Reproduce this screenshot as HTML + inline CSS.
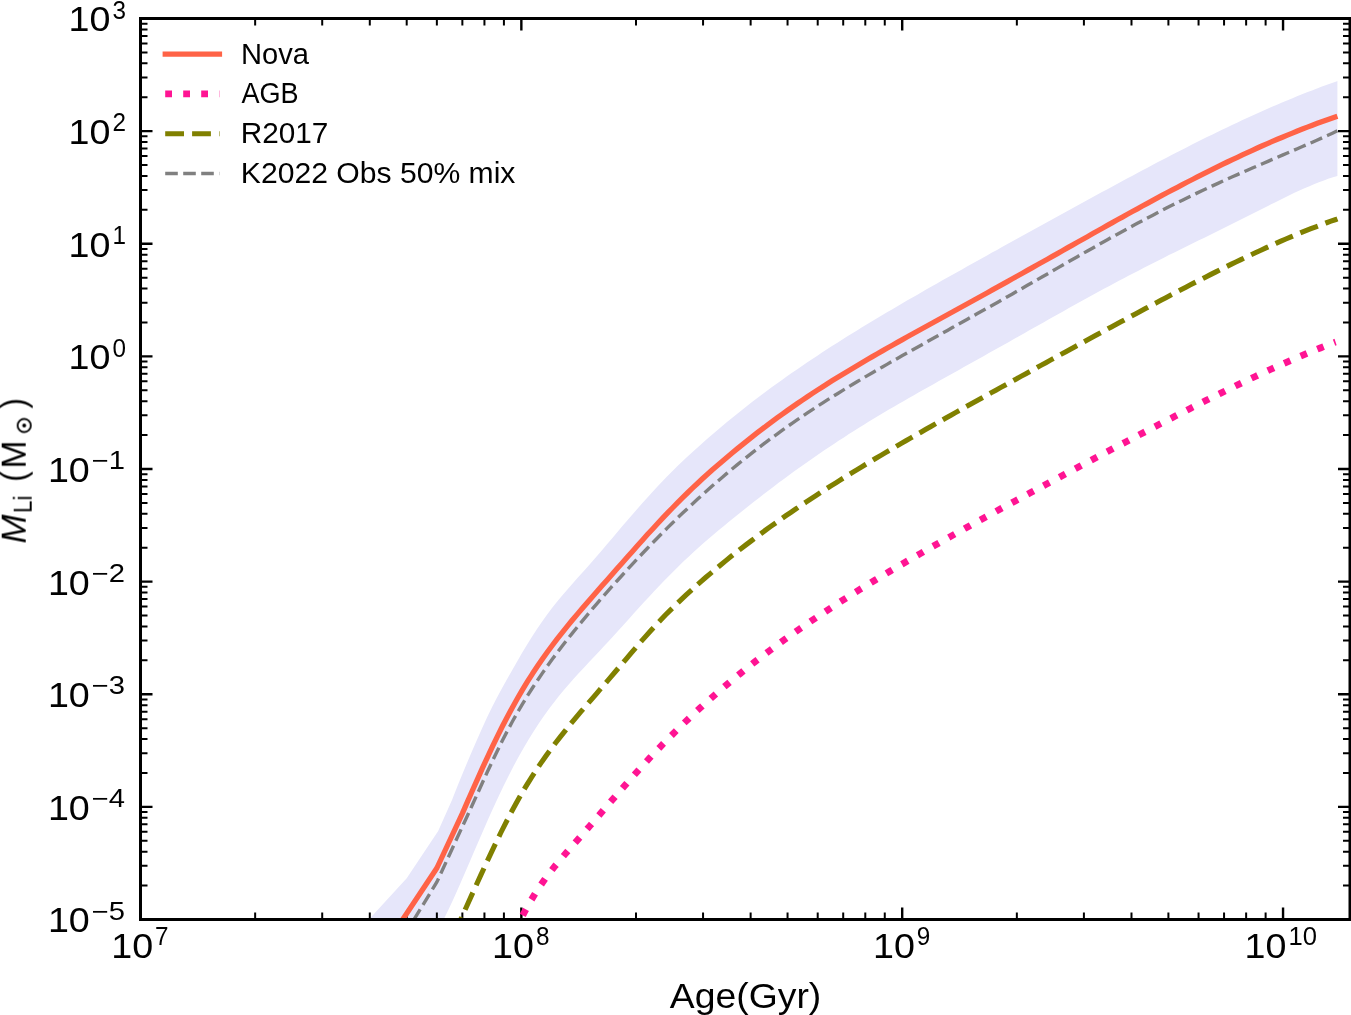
<!DOCTYPE html>
<html lang="en">
<head>
<meta charset="utf-8">
<title>Li mass vs age</title>
<style>
html,body{margin:0;padding:0;background:#fff;}
body{width:1351px;height:1015px;overflow:hidden;font-family:"Liberation Sans",sans-serif;}
svg{display:block;}
</style>
</head>
<body>
<svg width="1351" height="1015" viewBox="0 0 1351 1015" role="img" aria-label="Lithium mass versus age for Nova, AGB, R2017 and K2022 models">
<rect width="1351" height="1015" fill="#fff"/>
<defs><clipPath id="ax"><rect x="140.5" y="18.5" width="1209.5" height="901.0"/></clipPath></defs>
<path d="M369.8 918.5L406.7 878.2L438.2 831.0L452.0 799.9L457.0 787.2L462.0 775.0L467.0 763.1L472.0 751.3L477.0 739.8L482.0 728.4L487.0 717.5L492.0 707.2L497.0 697.5L502.0 688.3L507.0 679.3L512.0 670.4L517.0 661.7L522.0 653.1L527.0 644.7L532.0 636.7L537.0 629.0L542.0 621.7L547.0 614.8L552.0 608.1L557.0 601.8L562.0 595.8L567.0 590.0L572.0 584.3L577.0 578.6L582.0 573.0L587.0 567.4L592.0 561.7L597.0 556.0L602.0 550.2L607.0 544.3L612.0 538.5L617.0 532.5L622.0 526.6L627.0 520.8L632.0 514.9L637.0 509.2L642.0 503.5L647.0 497.9L652.0 492.4L657.0 487.0L662.0 481.8L667.0 476.6L672.0 471.6L677.0 466.6L682.0 461.8L687.0 457.1L692.0 452.4L697.0 447.9L702.0 443.4L707.0 439.0L712.0 434.7L717.0 430.4L722.0 426.2L727.0 422.1L732.0 418.0L737.0 413.9L742.0 409.9L747.0 406.0L752.0 402.1L757.0 398.3L762.0 394.5L767.0 390.8L772.0 387.1L777.0 383.5L782.0 379.9L787.0 376.3L792.0 372.8L797.0 369.4L802.0 365.9L807.0 362.5L812.0 359.2L817.0 355.9L822.0 352.6L827.0 349.3L832.0 346.1L837.0 342.9L842.0 339.7L847.0 336.6L852.0 333.5L857.0 330.4L862.0 327.3L867.0 324.3L872.0 321.3L877.0 318.3L882.0 315.3L887.0 312.3L892.0 309.4L897.0 306.4L902.0 303.5L907.0 300.6L912.0 297.7L917.0 294.9L922.0 292.0L927.0 289.1L932.0 286.3L937.0 283.4L942.0 280.6L947.0 277.8L952.0 275.0L957.0 272.2L962.0 269.4L967.0 266.6L972.0 263.8L977.0 261.0L982.0 258.2L987.0 255.4L992.0 252.6L997.0 249.9L1002.0 247.1L1007.0 244.3L1012.0 241.5L1017.0 238.8L1022.0 236.0L1027.0 233.2L1032.0 230.5L1037.0 227.7L1042.0 225.0L1047.0 222.2L1052.0 219.5L1057.0 216.7L1062.0 214.0L1067.0 211.2L1072.0 208.5L1077.0 205.7L1082.0 203.0L1087.0 200.3L1092.0 197.5L1097.0 194.8L1102.0 192.1L1107.0 189.4L1112.0 186.7L1117.0 184.0L1122.0 181.3L1127.0 178.6L1132.0 175.9L1137.0 173.2L1142.0 170.6L1147.0 167.9L1152.0 165.3L1157.0 162.6L1162.0 160.0L1167.0 157.4L1172.0 154.8L1177.0 152.3L1182.0 149.7L1187.0 147.2L1192.0 144.6L1197.0 142.1L1202.0 139.6L1207.0 137.1L1212.0 134.7L1217.0 132.2L1222.0 129.8L1227.0 127.4L1232.0 125.0L1237.0 122.7L1242.0 120.3L1247.0 118.0L1252.0 115.7L1257.0 113.5L1262.0 111.2L1267.0 109.0L1272.0 106.8L1277.0 104.7L1282.0 102.6L1287.0 100.5L1292.0 98.4L1297.0 96.3L1302.0 94.3L1307.0 92.3L1312.0 90.4L1317.0 88.5L1322.0 86.6L1327.0 84.8L1332.0 82.9L1337.0 81.2L1337.4 81.0L1337.4 176.0L1333.9 177.0L1328.9 178.6L1323.9 180.4L1318.9 182.3L1313.9 184.3L1308.9 186.4L1303.9 188.5L1298.9 190.8L1293.9 193.1L1288.9 195.5L1283.9 197.9L1278.9 200.4L1273.9 202.9L1268.9 205.4L1263.9 207.9L1258.9 210.4L1253.9 213.0L1248.9 215.5L1243.9 218.0L1238.9 220.5L1233.9 223.0L1228.9 225.5L1223.9 228.0L1218.9 230.5L1213.9 232.9L1208.9 235.4L1203.9 237.9L1198.9 240.3L1193.9 242.8L1188.9 245.2L1183.9 247.7L1178.9 250.2L1173.9 252.7L1168.9 255.1L1163.9 257.7L1158.9 260.2L1153.9 262.7L1148.9 265.2L1143.9 267.8L1138.9 270.4L1133.9 273.0L1128.9 275.6L1123.9 278.2L1118.9 280.8L1113.9 283.5L1108.9 286.2L1103.9 288.8L1098.9 291.6L1093.9 294.3L1088.9 297.0L1083.9 299.8L1078.9 302.5L1073.9 305.3L1068.9 308.1L1063.9 310.9L1058.9 313.7L1053.9 316.5L1048.9 319.3L1043.9 322.2L1038.9 325.0L1033.9 327.8L1028.9 330.6L1023.9 333.5L1018.9 336.3L1013.9 339.1L1008.9 341.9L1003.9 344.7L998.9 347.5L993.9 350.3L988.9 353.1L983.9 355.9L978.9 358.7L973.9 361.5L968.9 364.3L963.9 367.1L958.9 369.9L953.9 372.7L948.9 375.5L943.9 378.3L938.9 381.1L933.9 383.9L928.9 386.7L923.9 389.5L918.9 392.3L913.9 395.2L908.9 398.0L903.9 400.9L898.9 403.8L893.9 406.7L888.9 409.6L883.9 412.6L878.9 415.6L873.9 418.6L868.9 421.6L863.9 424.7L858.9 427.8L853.9 431.0L848.9 434.1L843.9 437.4L838.9 440.6L833.9 443.9L828.9 447.2L823.9 450.6L818.9 454.0L813.9 457.4L808.9 460.9L803.9 464.4L798.9 468.0L793.9 471.6L788.9 475.2L783.9 478.9L778.9 482.6L773.9 486.4L768.9 490.2L763.9 494.1L758.9 497.9L753.9 501.8L748.9 505.8L743.9 509.7L738.9 513.7L733.9 517.7L728.9 521.8L723.9 525.9L718.9 530.0L713.9 534.2L708.9 538.5L703.9 542.8L698.9 547.3L693.9 551.8L688.9 556.4L683.9 561.1L678.9 565.9L673.9 570.9L668.9 575.9L663.9 581.0L658.9 586.2L653.9 591.5L648.9 596.9L643.9 602.3L638.9 607.8L633.9 613.3L628.9 618.9L623.9 624.4L618.9 630.0L613.9 635.5L608.9 640.9L603.9 646.3L598.9 651.7L593.9 657.0L588.9 662.3L583.9 667.7L578.9 673.1L573.9 678.5L568.9 684.2L563.9 690.0L558.9 696.1L553.9 702.4L548.9 709.0L543.9 715.9L538.9 723.2L533.9 730.9L528.9 738.9L523.9 747.4L518.9 756.2L513.9 765.5L508.9 775.2L503.9 785.2L498.9 795.7L493.9 806.5L488.9 817.6L483.9 828.9L478.9 840.4L473.9 852.0L468.9 863.7L463.9 875.3L458.9 886.8L453.9 897.9L448.9 908.7L443.9 919.0L430.0 950.0L369.8 1060.0Z" fill="#e6e6fa" stroke="none" clip-path="url(#ax)"/>
<path d="M521.35 919.5v-12M521.35 18.5v12M902.20 919.5v-12M902.20 18.5v12M1283.05 919.5v-12M1283.05 18.5v12M140.5 806.88h12M1350.0 806.88h-12M140.5 694.25h12M1350.0 694.25h-12M140.5 581.62h12M1350.0 581.62h-12M140.5 469.00h12M1350.0 469.00h-12M140.5 356.38h12M1350.0 356.38h-12M140.5 243.75h12M1350.0 243.75h-12M140.5 131.12h12M1350.0 131.12h-12" stroke="#000" stroke-width="2.4" fill="none"/>
<path d="M255.15 919.5v-7M255.15 18.5v7M322.21 919.5v-7M322.21 18.5v7M369.79 919.5v-7M369.79 18.5v7M406.70 919.5v-7M406.70 18.5v7M436.86 919.5v-7M436.86 18.5v7M462.36 919.5v-7M462.36 18.5v7M484.44 919.5v-7M484.44 18.5v7M503.92 919.5v-7M503.92 18.5v7M636.00 919.5v-7M636.00 18.5v7M703.06 919.5v-7M703.06 18.5v7M750.64 919.5v-7M750.64 18.5v7M787.55 919.5v-7M787.55 18.5v7M817.71 919.5v-7M817.71 18.5v7M843.21 919.5v-7M843.21 18.5v7M865.29 919.5v-7M865.29 18.5v7M884.77 919.5v-7M884.77 18.5v7M1016.85 919.5v-7M1016.85 18.5v7M1083.91 919.5v-7M1083.91 18.5v7M1131.49 919.5v-7M1131.49 18.5v7M1168.40 919.5v-7M1168.40 18.5v7M1198.56 919.5v-7M1198.56 18.5v7M1224.06 919.5v-7M1224.06 18.5v7M1246.14 919.5v-7M1246.14 18.5v7M1265.62 919.5v-7M1265.62 18.5v7M140.5 885.60h7M1350.0 885.60h-7M140.5 865.76h7M1350.0 865.76h-7M140.5 851.69h7M1350.0 851.69h-7M140.5 840.78h7M1350.0 840.78h-7M140.5 831.86h7M1350.0 831.86h-7M140.5 824.32h7M1350.0 824.32h-7M140.5 817.79h7M1350.0 817.79h-7M140.5 812.03h7M1350.0 812.03h-7M140.5 772.97h7M1350.0 772.97h-7M140.5 753.14h7M1350.0 753.14h-7M140.5 739.07h7M1350.0 739.07h-7M140.5 728.15h7M1350.0 728.15h-7M140.5 719.24h7M1350.0 719.24h-7M140.5 711.70h7M1350.0 711.70h-7M140.5 705.16h7M1350.0 705.16h-7M140.5 699.40h7M1350.0 699.40h-7M140.5 660.35h7M1350.0 660.35h-7M140.5 640.51h7M1350.0 640.51h-7M140.5 626.44h7M1350.0 626.44h-7M140.5 615.53h7M1350.0 615.53h-7M140.5 606.61h7M1350.0 606.61h-7M140.5 599.07h7M1350.0 599.07h-7M140.5 592.54h7M1350.0 592.54h-7M140.5 586.78h7M1350.0 586.78h-7M140.5 547.72h7M1350.0 547.72h-7M140.5 527.89h7M1350.0 527.89h-7M140.5 513.82h7M1350.0 513.82h-7M140.5 502.90h7M1350.0 502.90h-7M140.5 493.99h7M1350.0 493.99h-7M140.5 486.45h7M1350.0 486.45h-7M140.5 479.91h7M1350.0 479.91h-7M140.5 474.15h7M1350.0 474.15h-7M140.5 435.10h7M1350.0 435.10h-7M140.5 415.26h7M1350.0 415.26h-7M140.5 401.19h7M1350.0 401.19h-7M140.5 390.28h7M1350.0 390.28h-7M140.5 381.36h7M1350.0 381.36h-7M140.5 373.82h7M1350.0 373.82h-7M140.5 367.29h7M1350.0 367.29h-7M140.5 361.53h7M1350.0 361.53h-7M140.5 322.47h7M1350.0 322.47h-7M140.5 302.64h7M1350.0 302.64h-7M140.5 288.57h7M1350.0 288.57h-7M140.5 277.65h7M1350.0 277.65h-7M140.5 268.74h7M1350.0 268.74h-7M140.5 261.20h7M1350.0 261.20h-7M140.5 254.66h7M1350.0 254.66h-7M140.5 248.90h7M1350.0 248.90h-7M140.5 209.85h7M1350.0 209.85h-7M140.5 190.01h7M1350.0 190.01h-7M140.5 175.94h7M1350.0 175.94h-7M140.5 165.03h7M1350.0 165.03h-7M140.5 156.11h7M1350.0 156.11h-7M140.5 148.57h7M1350.0 148.57h-7M140.5 142.04h7M1350.0 142.04h-7M140.5 136.28h7M1350.0 136.28h-7M140.5 97.22h7M1350.0 97.22h-7M140.5 77.39h7M1350.0 77.39h-7M140.5 63.32h7M1350.0 63.32h-7M140.5 52.40h7M1350.0 52.40h-7M140.5 43.49h7M1350.0 43.49h-7M140.5 35.95h7M1350.0 35.95h-7M140.5 29.41h7M1350.0 29.41h-7M140.5 23.65h7M1350.0 23.65h-7" stroke="#000" stroke-width="2" fill="none"/>
<g clip-path="url(#ax)" fill="none">
<path d="M369.8 967.8L406.7 913.6L436.9 868.0L462.4 813.4L467.4 801.9L472.4 790.5L477.4 779.3L482.4 768.1L487.4 757.3L492.4 746.6L497.4 736.3L502.4 726.3L507.4 716.7L512.4 707.4L517.4 698.5L522.4 689.9L527.4 681.7L532.4 673.8L537.4 666.3L542.4 659.0L547.4 652.0L552.4 645.2L557.4 638.6L562.4 632.3L567.4 626.1L572.4 620.0L577.4 614.1L582.4 608.2L587.4 602.4L592.4 596.7L597.4 591.0L602.4 585.3L607.4 579.7L612.4 574.0L617.4 568.3L622.4 562.7L627.4 557.0L632.4 551.4L637.4 545.8L642.4 540.2L647.4 534.6L652.4 529.2L657.4 523.7L662.4 518.4L667.4 513.1L672.4 508.0L677.4 502.9L682.4 497.9L687.4 493.0L692.4 488.2L697.4 483.5L702.4 478.8L707.4 474.3L712.4 469.8L717.4 465.5L722.4 461.2L727.4 456.9L732.4 452.7L737.4 448.6L742.4 444.6L747.4 440.6L752.4 436.6L757.4 432.7L762.4 428.9L767.4 425.1L772.4 421.4L777.4 417.7L782.4 414.1L787.4 410.5L792.4 407.0L797.4 403.5L802.4 400.1L807.4 396.7L812.4 393.4L817.4 390.1L822.4 386.9L827.4 383.7L832.4 380.6L837.4 377.5L842.4 374.4L847.4 371.4L852.4 368.4L857.4 365.4L862.4 362.4L867.4 359.5L872.4 356.6L877.4 353.7L882.4 350.9L887.4 348.0L892.4 345.2L897.4 342.4L902.4 339.6L907.4 336.8L912.4 334.0L917.4 331.2L922.4 328.5L927.4 325.7L932.4 323.0L937.4 320.2L942.4 317.5L947.4 314.7L952.4 312.0L957.4 309.2L962.4 306.5L967.4 303.7L972.4 301.0L977.4 298.2L982.4 295.5L987.4 292.7L992.4 289.9L997.4 287.2L1002.4 284.4L1007.4 281.6L1012.4 278.8L1017.4 276.0L1022.4 273.2L1027.4 270.4L1032.4 267.6L1037.4 264.8L1042.4 262.0L1047.4 259.2L1052.4 256.4L1057.4 253.6L1062.4 250.8L1067.4 247.9L1072.4 245.1L1077.4 242.3L1082.4 239.5L1087.4 236.7L1092.4 233.8L1097.4 231.0L1102.4 228.2L1107.4 225.4L1112.4 222.6L1117.4 219.8L1122.4 217.1L1127.4 214.3L1132.4 211.5L1137.4 208.8L1142.4 206.0L1147.4 203.3L1152.4 200.6L1157.4 197.9L1162.4 195.2L1167.4 192.5L1172.4 189.9L1177.4 187.3L1182.4 184.6L1187.4 182.0L1192.4 179.5L1197.4 176.9L1202.4 174.4L1207.4 171.9L1212.4 169.4L1217.4 166.9L1222.4 164.4L1227.4 162.0L1232.4 159.6L1237.4 157.3L1242.4 154.9L1247.4 152.6L1252.4 150.3L1257.4 148.0L1262.4 145.8L1267.4 143.6L1272.4 141.4L1277.4 139.3L1282.4 137.2L1287.4 135.1L1292.4 133.1L1297.4 131.0L1302.4 129.1L1307.4 127.1L1312.4 125.2L1317.4 123.3L1322.4 121.5L1327.4 119.7L1332.4 117.9L1337.4 116.2L1337.4 116.2" stroke="#ff6347" stroke-width="5.3" stroke-linejoin="round"/>
<path d="M514.3 930.0L520.3 920.0L525.3 910.5L530.3 901.6L535.3 893.4L540.3 885.7L545.3 878.6L550.3 872.0L555.3 865.7L560.3 859.8L565.3 853.9L570.3 848.2L575.3 842.6L580.3 836.9L585.3 831.2L590.3 825.4L595.3 819.6L600.3 813.8L605.3 808.0L610.3 802.2L615.3 796.4L620.3 790.7L625.3 785.0L630.3 779.3L635.3 773.7L640.3 768.2L645.3 762.7L650.3 757.3L655.3 752.0L660.3 746.8L665.3 741.6L670.3 736.6L675.3 731.6L680.3 726.7L685.3 721.9L690.3 717.1L695.3 712.4L700.3 707.8L705.3 703.3L710.3 698.9L715.3 694.5L720.3 690.1L725.3 685.9L730.3 681.7L735.3 677.5L740.3 673.5L745.3 669.4L750.3 665.5L755.3 661.5L760.3 657.7L765.3 653.9L770.3 650.1L775.3 646.4L780.3 642.7L785.3 639.1L790.3 635.5L795.3 632.0L800.3 628.5L805.3 625.0L810.3 621.6L815.3 618.2L820.3 614.9L825.3 611.6L830.3 608.3L835.3 605.0L840.3 601.8L845.3 598.6L850.3 595.5L855.3 592.3L860.3 589.2L865.3 586.1L870.3 583.1L875.3 580.0L880.3 577.0L885.3 574.0L890.3 571.0L895.3 568.1L900.3 565.1L905.3 562.2L910.3 559.3L915.3 556.4L920.3 553.6L925.3 550.7L930.3 547.8L935.3 545.0L940.3 542.2L945.3 539.4L950.3 536.6L955.3 533.8L960.3 531.0L965.3 528.2L970.3 525.5L975.3 522.7L980.3 520.0L985.3 517.2L990.3 514.5L995.3 511.8L1000.3 509.0L1005.3 506.3L1010.3 503.6L1015.3 500.9L1020.3 498.2L1025.3 495.5L1030.3 492.8L1035.3 490.1L1040.3 487.4L1045.3 484.7L1050.3 482.0L1055.3 479.4L1060.3 476.7L1065.3 474.0L1070.3 471.3L1075.3 468.7L1080.3 466.0L1085.3 463.3L1090.3 460.7L1095.3 458.0L1100.3 455.4L1105.3 452.7L1110.3 450.1L1115.3 447.4L1120.3 444.8L1125.3 442.2L1130.3 439.5L1135.3 436.9L1140.3 434.3L1145.3 431.7L1150.3 429.0L1155.3 426.4L1160.3 423.8L1165.3 421.3L1170.3 418.7L1175.3 416.1L1180.3 413.5L1185.3 411.0L1190.3 408.4L1195.3 405.9L1200.3 403.4L1205.3 400.8L1210.3 398.3L1215.3 395.8L1220.3 393.4L1225.3 390.9L1230.3 388.5L1235.3 386.0L1240.3 383.6L1245.3 381.2L1250.3 378.8L1255.3 376.5L1260.3 374.1L1265.3 371.8L1270.3 369.5L1275.3 367.2L1280.3 365.0L1285.3 362.8L1290.3 360.6L1295.3 358.4L1300.3 356.2L1305.3 354.1L1310.3 352.0L1315.3 350.0L1320.3 348.0L1325.3 346.0L1330.3 344.0L1335.3 342.1L1335.6 342.0" stroke="#ff1493" stroke-width="6.8" stroke-dasharray="6.8 11.2" stroke-dashoffset="1.1"/>
<path d="M456.1 930.0L460.9 919.1L465.9 908.0L470.9 896.9L475.9 885.9L480.9 874.9L485.9 864.0L490.9 853.3L495.9 842.8L500.9 832.5L505.9 822.6L510.9 813.0L515.9 803.8L520.9 794.9L525.9 786.4L530.9 778.3L535.9 770.6L540.9 763.1L545.9 756.0L550.9 749.1L555.9 742.5L560.9 736.1L565.9 729.8L570.9 723.7L575.9 717.7L580.9 711.7L585.9 705.9L590.9 700.1L595.9 694.3L600.9 688.5L605.9 682.7L610.9 676.9L615.9 671.0L620.9 665.2L625.9 659.3L630.9 653.4L635.9 647.5L640.9 641.7L645.9 636.1L650.9 630.5L655.9 625.1L660.9 619.8L665.9 614.6L670.9 609.6L675.9 604.7L680.9 599.9L685.9 595.2L690.9 590.6L695.9 586.1L700.9 581.7L705.9 577.3L710.9 573.1L715.9 568.8L720.9 564.7L725.9 560.6L730.9 556.6L735.9 552.6L740.9 548.7L745.9 544.9L750.9 541.1L755.9 537.3L760.9 533.6L765.9 529.9L770.9 526.3L775.9 522.8L780.9 519.2L785.9 515.7L790.9 512.3L795.9 508.9L800.9 505.5L805.9 502.2L810.9 498.8L815.9 495.6L820.9 492.3L825.9 489.1L830.9 485.9L835.9 482.8L840.9 479.6L845.9 476.5L850.9 473.4L855.9 470.4L860.9 467.3L865.9 464.3L870.9 461.3L875.9 458.3L880.9 455.4L885.9 452.4L890.9 449.5L895.9 446.6L900.9 443.6L905.9 440.8L910.9 437.9L915.9 435.0L920.9 432.2L925.9 429.3L930.9 426.5L935.9 423.6L940.9 420.8L945.9 418.0L950.9 415.2L955.9 412.4L960.9 409.6L965.9 406.8L970.9 404.0L975.9 401.3L980.9 398.5L985.9 395.7L990.9 392.9L995.9 390.2L1000.9 387.4L1005.9 384.7L1010.9 381.9L1015.9 379.2L1020.9 376.4L1025.9 373.7L1030.9 370.9L1035.9 368.2L1040.9 365.4L1045.9 362.7L1050.9 359.9L1055.9 357.2L1060.9 354.4L1065.9 351.7L1070.9 349.0L1075.9 346.2L1080.9 343.5L1085.9 340.8L1090.9 338.1L1095.9 335.3L1100.9 332.6L1105.9 329.9L1110.9 327.2L1115.9 324.5L1120.9 321.8L1125.9 319.1L1130.9 316.4L1135.9 313.7L1140.9 311.0L1145.9 308.3L1150.9 305.6L1155.9 303.0L1160.9 300.3L1165.9 297.7L1170.9 295.0L1175.9 292.4L1180.9 289.8L1185.9 287.2L1190.9 284.6L1195.9 282.0L1200.9 279.5L1205.9 276.9L1210.9 274.4L1215.9 271.9L1220.9 269.4L1225.9 266.9L1230.9 264.4L1235.9 262.0L1240.9 259.6L1245.9 257.2L1250.9 254.8L1255.9 252.5L1260.9 250.2L1265.9 247.9L1270.9 245.6L1275.9 243.4L1280.9 241.2L1285.9 239.0L1290.9 236.9L1295.9 234.8L1300.9 232.7L1305.9 230.7L1310.9 228.7L1315.9 226.8L1320.9 224.9L1325.9 223.0L1330.9 221.2L1335.9 219.5L1337.4 218.9" stroke="#808000" stroke-width="5.1" stroke-dasharray="18.8 8.1" stroke-dashoffset="4.8"/>
<path d="M406.7 931.5L436.9 882.0L462.4 826.5L467.4 815.8L472.4 804.8L477.4 793.8L482.4 782.7L487.4 771.8L492.4 761.1L497.4 750.7L502.4 740.6L507.4 730.9L512.4 721.5L517.4 712.6L522.4 704.1L527.4 695.9L532.4 688.0L537.4 680.5L542.4 673.1L547.4 666.0L552.4 659.1L557.4 652.4L562.4 645.8L567.4 639.4L572.4 633.1L577.4 626.9L582.4 620.8L587.4 614.8L592.4 608.9L597.4 603.1L602.4 597.3L607.4 591.7L612.4 586.0L617.4 580.5L622.4 575.0L627.4 569.5L632.4 564.1L637.4 558.8L642.4 553.5L647.4 548.3L652.4 543.1L657.4 538.0L662.4 532.9L667.4 527.9L672.4 523.0L677.4 518.1L682.4 513.3L687.4 508.6L692.4 503.9L697.4 499.3L702.4 494.8L707.4 490.3L712.4 485.8L717.4 481.5L722.4 477.2L727.4 472.9L732.4 468.7L737.4 464.6L742.4 460.6L747.4 456.6L752.4 452.6L757.4 448.7L762.4 444.9L767.4 441.1L772.4 437.4L777.4 433.8L782.4 430.2L787.4 426.6L792.4 423.1L797.4 419.7L802.4 416.3L807.4 412.9L812.4 409.6L817.4 406.3L822.4 403.1L827.4 399.9L832.4 396.8L837.4 393.7L842.4 390.6L847.4 387.5L852.4 384.5L857.4 381.5L862.4 378.6L867.4 375.6L872.4 372.7L877.4 369.8L882.4 367.0L887.4 364.1L892.4 361.2L897.4 358.4L902.4 355.6L907.4 352.8L912.4 350.0L917.4 347.2L922.4 344.4L927.4 341.6L932.4 338.8L937.4 336.0L942.4 333.2L947.4 330.4L952.4 327.6L957.4 324.8L962.4 322.0L967.4 319.2L972.4 316.4L977.4 313.6L982.4 310.8L987.4 308.0L992.4 305.2L997.4 302.4L1002.4 299.5L1007.4 296.7L1012.4 293.9L1017.4 291.0L1022.4 288.2L1027.4 285.3L1032.4 282.5L1037.4 279.6L1042.4 276.7L1047.4 273.9L1052.4 271.0L1057.4 268.1L1062.4 265.3L1067.4 262.4L1072.4 259.6L1077.4 256.7L1082.4 253.8L1087.4 251.0L1092.4 248.2L1097.4 245.3L1102.4 242.5L1107.4 239.7L1112.4 236.9L1117.4 234.2L1122.4 231.4L1127.4 228.7L1132.4 226.0L1137.4 223.3L1142.4 220.6L1147.4 218.0L1152.4 215.4L1157.4 212.8L1162.4 210.2L1167.4 207.6L1172.4 205.1L1177.4 202.6L1182.4 200.2L1187.4 197.7L1192.4 195.3L1197.4 192.9L1202.4 190.5L1207.4 188.2L1212.4 185.9L1217.4 183.6L1222.4 181.3L1227.4 179.0L1232.4 176.8L1237.4 174.6L1242.4 172.4L1247.4 170.2L1252.4 168.0L1257.4 165.9L1262.4 163.7L1267.4 161.6L1272.4 159.4L1277.4 157.3L1282.4 155.1L1287.4 153.0L1292.4 150.9L1297.4 148.7L1302.4 146.5L1307.4 144.4L1312.4 142.2L1317.4 140.0L1322.4 137.7L1327.4 135.5L1332.4 133.2L1337.4 130.8L1337.4 130.8" stroke="#808080" stroke-width="3.4" stroke-dasharray="12.6 5.4" stroke-dashoffset="4.7"/>
</g>
<rect x="140.5" y="18.5" width="1209.5" height="901.0" fill="none" stroke="#000" stroke-width="3"/>
<g font-family="'Liberation Sans', sans-serif" fill="#000" style="will-change:opacity;opacity:.999">
<text x="47.9" y="932.4" font-size="35.8" textLength="41.9" lengthAdjust="spacingAndGlyphs">10</text><text x="91.7" y="919.6" font-size="25.1" textLength="33.3" lengthAdjust="spacingAndGlyphs">−5</text>
<text x="47.9" y="819.8" font-size="35.8" textLength="41.9" lengthAdjust="spacingAndGlyphs">10</text><text x="91.7" y="807.0" font-size="25.1" textLength="33.3" lengthAdjust="spacingAndGlyphs">−4</text>
<text x="47.9" y="707.1" font-size="35.8" textLength="41.9" lengthAdjust="spacingAndGlyphs">10</text><text x="91.7" y="694.4" font-size="25.1" textLength="33.3" lengthAdjust="spacingAndGlyphs">−3</text>
<text x="47.9" y="594.5" font-size="35.8" textLength="41.9" lengthAdjust="spacingAndGlyphs">10</text><text x="91.7" y="581.7" font-size="25.1" textLength="33.3" lengthAdjust="spacingAndGlyphs">−2</text>
<text x="47.9" y="481.9" font-size="35.8" textLength="41.9" lengthAdjust="spacingAndGlyphs">10</text><text x="91.7" y="469.1" font-size="25.1" textLength="33.3" lengthAdjust="spacingAndGlyphs">−1</text>
<text x="68.6" y="369.3" font-size="35.8" textLength="41.9" lengthAdjust="spacingAndGlyphs">10</text><text x="112.4" y="356.5" font-size="25.1" textLength="13.5" lengthAdjust="spacingAndGlyphs">0</text>
<text x="68.6" y="256.6" font-size="35.8" textLength="41.9" lengthAdjust="spacingAndGlyphs">10</text><text x="112.4" y="243.8" font-size="25.1" textLength="13.5" lengthAdjust="spacingAndGlyphs">1</text>
<text x="68.6" y="144.0" font-size="35.8" textLength="41.9" lengthAdjust="spacingAndGlyphs">10</text><text x="112.4" y="131.2" font-size="25.1" textLength="13.5" lengthAdjust="spacingAndGlyphs">2</text>
<text x="68.6" y="31.4" font-size="35.8" textLength="41.9" lengthAdjust="spacingAndGlyphs">10</text><text x="112.4" y="18.6" font-size="25.1" textLength="13.5" lengthAdjust="spacingAndGlyphs">3</text>
<text x="111.2" y="958.2" font-size="35.8" textLength="41.9" lengthAdjust="spacingAndGlyphs">10</text><text x="155.1" y="945.4" font-size="25.1" textLength="13.5" lengthAdjust="spacingAndGlyphs">7</text>
<text x="492.1" y="958.2" font-size="35.8" textLength="41.9" lengthAdjust="spacingAndGlyphs">10</text><text x="535.9" y="945.4" font-size="25.1" textLength="13.5" lengthAdjust="spacingAndGlyphs">8</text>
<text x="873.0" y="958.2" font-size="35.8" textLength="41.9" lengthAdjust="spacingAndGlyphs">10</text><text x="916.8" y="945.4" font-size="25.1" textLength="13.5" lengthAdjust="spacingAndGlyphs">9</text>
<text x="1244.6" y="958.2" font-size="35.8" textLength="41.9" lengthAdjust="spacingAndGlyphs">10</text><text x="1288.4" y="945.4" font-size="25.1" textLength="28.5" lengthAdjust="spacingAndGlyphs">10</text>
<text x="669.8" y="1007.5" font-size="35.8" textLength="151.5" lengthAdjust="spacingAndGlyphs">Age(Gyr)</text>
<g transform="translate(25.7 543.5) rotate(-90)">
<text x="0" y="0" font-size="35.8" font-style="italic" textLength="29" lengthAdjust="spacingAndGlyphs">M</text>
<text x="30.5" y="6" font-size="25.1" textLength="17.5" lengthAdjust="spacingAndGlyphs">Li</text>
<text x="61.7" y="0" font-size="35.8" textLength="10.4" lengthAdjust="spacingAndGlyphs">(</text>
<text x="75" y="0" font-size="35.8" textLength="28" lengthAdjust="spacingAndGlyphs">M</text>
<circle cx="118" cy="-1.5" r="6.6" fill="none" stroke="#000" stroke-width="1.9"/><circle cx="118" cy="-1.5" r="1.9"/>
<text x="134.9" y="0" font-size="35.8" textLength="10.4" lengthAdjust="spacingAndGlyphs">)</text>
</g>
<text x="241.0" y="63.6" font-size="28.6" textLength="68.0" lengthAdjust="spacingAndGlyphs">Nova</text>
<text x="241.4" y="103.4" font-size="28.6" textLength="57.2" lengthAdjust="spacingAndGlyphs">AGB</text>
<text x="240.8" y="143.2" font-size="28.6" textLength="87.6" lengthAdjust="spacingAndGlyphs">R2017</text>
<text x="240.8" y="183.0" font-size="28.6" textLength="274.6" lengthAdjust="spacingAndGlyphs">K2022 Obs 50% mix</text>
</g>
<g fill="none">
<path d="M162.6 54.1H222.1" stroke="#ff6347" stroke-width="5.1"/>
<path d="M165.2 93.9H219.5" stroke="#ff1493" stroke-width="6.8" stroke-dasharray="6.8 11.2"/>
<path d="M165.2 133.7H219.5" stroke="#808000" stroke-width="5.1" stroke-dasharray="18.8 8.1"/>
<path d="M165.2 173.5H219.5" stroke="#808080" stroke-width="3.4" stroke-dasharray="12.6 5.4"/>
</g>
</svg>
</body>
</html>
